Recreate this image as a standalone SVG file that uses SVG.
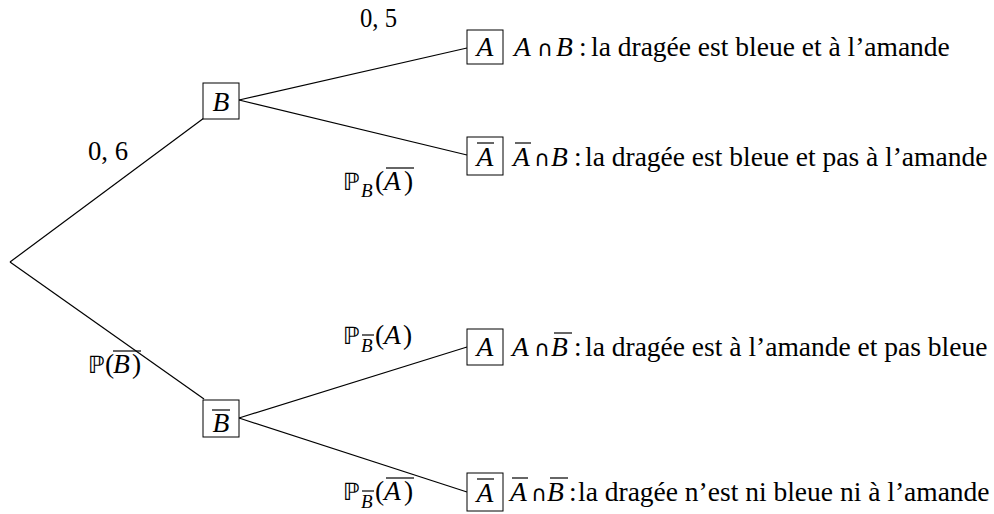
<svg xmlns="http://www.w3.org/2000/svg" width="994" height="514" viewBox="0 0 994 514">
<style>
.t{font-family:'Liberation Serif','Times New Roman',serif;font-size:27.5px;fill:#000}
.i{font-style:italic}
.bb{font-family:'DejaVu Sans',sans-serif;font-size:24px}
.cap{font-family:'DejaVu Sans',sans-serif;font-size:22px}
.sub{font-size:19px;font-style:italic}
.box{fill:#fff;stroke:#000;stroke-width:1}
.ln{stroke:#000;stroke-width:1.2;fill:none}
.ov{stroke:#000;stroke-width:1.2}
</style>
<rect width="994" height="514" fill="#fff"/>
<g id="connectors">
<line class="ln" x1="10" y1="262" x2="204" y2="118"/>
<line class="ln" x1="10" y1="262" x2="204" y2="399"/>
<line class="ln" x1="239" y1="100" x2="467" y2="48"/>
<line class="ln" x1="239" y1="100" x2="467" y2="155"/>
<line class="ln" x1="239" y1="418" x2="467" y2="347"/>
<line class="ln" x1="239" y1="418" x2="467" y2="492"/>
</g>
<g id="edge-labels">
<text class="t" x="360" y="27" textLength="37" lengthAdjust="spacingAndGlyphs">0, 5</text>
<text class="t" x="88" y="160" textLength="40" lengthAdjust="spacingAndGlyphs">0, 6</text>
<g id="lbl-pb-abar"><text class="t" y="190"><tspan class="bb" x="343">ℙ</tspan><tspan class="sub" x="361" y="197">B</tspan><tspan x="375" y="190">(</tspan><tspan class="i" x="384">A</tspan><tspan x="404">)</tspan></text><line class="ov" x1="386" y1="168" x2="414" y2="168"/></g>
<g id="lbl-p-bbar"><text class="t" y="373"><tspan class="bb" x="88">ℙ</tspan><tspan x="105">(</tspan><tspan class="i" x="113">B</tspan><tspan x="132">)</tspan></text><line class="ov" x1="113" y1="351" x2="141" y2="351"/></g>
<g id="lbl-pbbar-a"><text class="t" y="344"><tspan class="bb" x="343">ℙ</tspan><tspan class="sub" x="361" y="352">B</tspan><tspan x="375" y="344">(</tspan><tspan class="i" x="384">A</tspan><tspan x="403">)</tspan></text><line class="ov" x1="362" y1="335" x2="374" y2="335"/></g>
<g id="lbl-pbbar-abar"><text class="t" y="500"><tspan class="bb" x="343">ℙ</tspan><tspan class="sub" x="361" y="508">B</tspan><tspan x="375" y="500">(</tspan><tspan class="i" x="384">A</tspan><tspan x="404">)</tspan></text><line class="ov" x1="362" y1="491" x2="374" y2="491"/><line class="ov" x1="386" y1="478" x2="414" y2="478"/></g>
</g>
<g id="node-B"><rect class="box" x="203" y="83" width="36" height="36"/><text class="t i" x="221" y="111" text-anchor="middle">B</text></g>
<g id="node-Bbar"><rect class="box" x="203" y="400" width="36" height="37"/><text class="t i" x="221" y="432" text-anchor="middle">B</text><line class="ov" x1="212" y1="410" x2="230" y2="410"/></g>
<g id="node-A1"><rect class="box" x="467" y="30" width="36" height="34"/><text class="t i" x="485" y="56" text-anchor="middle">A</text>
<text class="t" y="56"><tspan class="i" x="514">A</tspan><tspan class="cap" x="537">∩</tspan><tspan class="i" x="556">B</tspan><tspan x="579">:</tspan><tspan x="591">la dragée est bleue et à l’amande</tspan></text></g>
<g id="node-Abar1"><rect class="box" x="467" y="137" width="36" height="38"/><text class="t i" x="485" y="166" text-anchor="middle">A</text><line class="ov" x1="477" y1="143" x2="494" y2="143"/>
<text class="t" y="166"><tspan class="i" x="513">A</tspan><tspan class="cap" x="534">∩</tspan><tspan class="i" x="551">B</tspan><tspan x="574">:</tspan><tspan x="585">la dragée est bleue et pas à l’amande</tspan></text><line class="ov" x1="515" y1="143" x2="531" y2="143"/></g>
<g id="node-A2"><rect class="box" x="467" y="329" width="36" height="36"/><text class="t i" x="485" y="356" text-anchor="middle">A</text>
<text class="t" y="356"><tspan class="i" x="512">A</tspan><tspan class="cap" x="534">∩</tspan><tspan class="i" x="551">B</tspan><tspan x="574">:</tspan><tspan x="585">la dragée est à l’amande et pas bleue</tspan></text><line class="ov" x1="554" y1="333" x2="572" y2="333"/></g>
<g id="node-Abar2"><rect class="box" x="467" y="473" width="36" height="38"/><text class="t i" x="485" y="502" text-anchor="middle">A</text><line class="ov" x1="477" y1="479" x2="494" y2="479"/>
<text class="t" y="501"><tspan class="i" x="510">A</tspan><tspan class="cap" x="531">∩</tspan><tspan class="i" x="547">B</tspan><tspan x="569">:</tspan><tspan x="578">la dragée n’est ni bleue ni à l’amande</tspan></text><line class="ov" x1="512" y1="478" x2="528" y2="478"/><line class="ov" x1="550" y1="478" x2="568" y2="478"/></g>
</svg>
